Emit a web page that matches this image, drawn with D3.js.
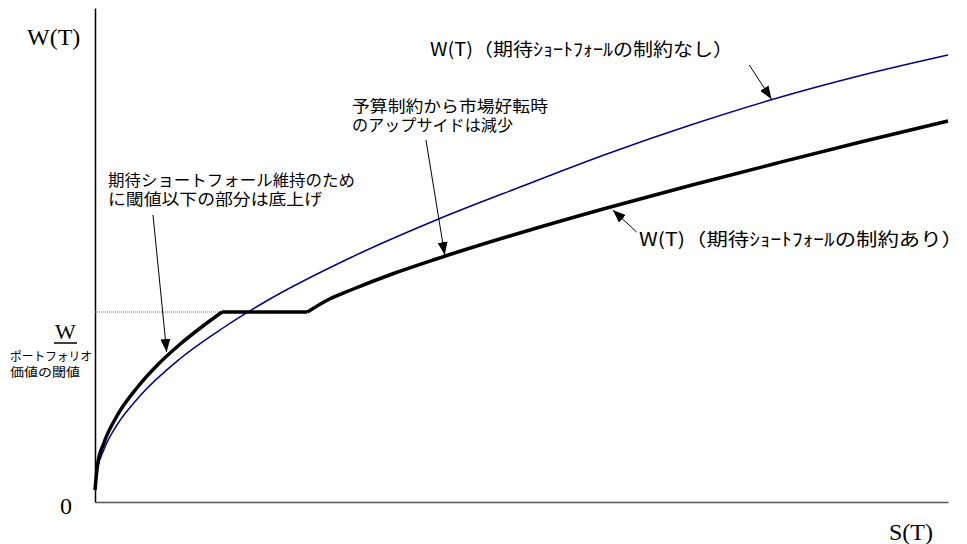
<!DOCTYPE html>
<html lang="ja">
<head>
<meta charset="utf-8">
<title>期待ショートフォール制約</title>
<script src="https://d3js.org/d3.v7.min.js"></script>
<style>
  body { margin: 0; background: #fff; }
  .serif { font-family: "Liberation Serif", "DejaVu Serif", serif; fill: #000; }
  .jp { font-family: "Noto Sans CJK JP", "Noto Sans", sans-serif; fill: #000; }
</style>
</head>
<body>
<script>
// data (S on 0..100, W on 0..100)
const blueS = [0, 0.3, 1, 2.5, 5, 10, 15, 20, 30, 40, 50, 60, 70, 80, 90, 100];
const blueW = [2.4, 6.6, 10.3, 15.2, 20.7, 28.7, 34.8, 40.1, 48.9, 56.4, 63.1, 69.6, 75.5, 80.8, 85.4, 89.4];

const lowS = [0, 0.3, 1, 2.5, 5, 7.5, 10, 12.5, 14.9];
const lowW = [2.4, 7.5, 11.6, 17.0, 23.0, 27.7, 31.6, 35.0, 38.0];
const floorS = [14.9, 24.9];
const highS = [24.9, 27.5, 30, 35, 40, 50, 60, 70, 80, 90, 100];
const highW = [38.0, 40.6, 42.4, 45.7, 48.6, 53.9, 58.8, 63.4, 67.8, 72.1, 76.2];
const threshold = 38.0;

// annotation arrows [fromS, fromW, toS, toW]
const arrows = [
  [6.8, 57.4, 8.4, 30.0],
  [38.8, 72.4, 41.0, 49.4],
  [76.7, 87.4, 79.3, 80.6],
  [63.5, 54.0, 60.7, 58.4]
];

const width = 967, height = 544;

const x = d3.scaleLinear().domain([0, 100]).range([95, 948]);
const y = d3.scaleLinear().domain([0, 100]).range([502, 2]);

const svg = d3.select("body").append("svg")
  .attr("width", width)
  .attr("height", height);

svg.append("defs").append("marker")
  .attr("id", "head")
  .attr("viewBox", "0 0 13 10")
  .attr("refX", 13).attr("refY", 5)
  .attr("markerWidth", 13).attr("markerHeight", 10)
  .attr("markerUnits", "userSpaceOnUse")
  .attr("orient", "auto")
  .append("path").attr("d", "M0,0L13,5L0,10Z").attr("fill", "#000");

// axes
const leftAxis = d3.axisLeft(d3.scaleLinear().domain([0, 98.8]).range([502, 8]))
  .tickValues([]).tickSizeOuter(0);
const bottomAxis = d3.axisBottom(x).tickValues([]).tickSizeOuter(0);

svg.append("g").attr("transform", "translate(0,502)").call(bottomAxis)
  .select(".domain").attr("stroke", "#555").attr("stroke-width", 1.5);
svg.append("g").attr("transform", "translate(95,0)").call(leftAxis)
  .select(".domain").attr("stroke", "#000").attr("stroke-width", 1.5);

// threshold dotted line
svg.append("line")
  .attr("x1", x(0)).attr("x2", x(lowS[lowS.length - 1]))
  .attr("y1", y(threshold)).attr("y2", y(threshold))
  .attr("stroke", "#777").attr("stroke-width", 1)
  .attr("stroke-dasharray", "1,1");

const line = d3.line().x(d => x(d[0])).y(d => y(d[1])).curve(d3.curveMonotoneX);

// unconstrained
svg.append("path")
  .attr("d", line(d3.zip(blueS, blueW)))
  .attr("fill", "none").attr("stroke", "#00008b").attr("stroke-width", 1.5);

// constrained
[d3.zip(lowS, lowW), floorS.map(s => [s, threshold]), d3.zip(highS, highW)].forEach(seg => {
  svg.append("path")
    .attr("d", line(seg))
    .attr("fill", "none").attr("stroke", "#000").attr("stroke-width", 3.5)
    .attr("stroke-linejoin", "round");
});

arrows.forEach(a => {
  svg.append("line")
    .attr("x1", x(a[0])).attr("y1", y(a[1]))
    .attr("x2", x(a[2])).attr("y2", y(a[3]))
    .attr("stroke", "#000").attr("stroke-width", 1)
    .attr("marker-end", "url(#head)");
});

// axis labels
svg.append("text").attr("class", "serif").attr("x", 27).attr("y", 45)
  .attr("font-size", 24).text("W(T)");
svg.append("text").attr("class", "serif").attr("x", 889).attr("y", 540)
  .attr("font-size", 24).text("S(T)");
svg.append("text").attr("class", "serif").attr("x", 60).attr("y", 514)
  .attr("font-size", 24).text("0");
svg.append("text").attr("class", "serif").attr("x", 65.5).attr("y", 339)
  .attr("text-anchor", "middle").attr("font-size", 22).text("W");
svg.append("line").attr("x1", 54).attr("x2", 77).attr("y1", 343).attr("y2", 343)
  .attr("stroke", "#000").attr("stroke-width", 1.5);

// japanese labels [text, x, baseline, size, width]
const labels = [
  ["ポートフォリオ", 10, 361, 12, 82],
  ["価値の閾値", 10, 377, 12, 70],
  ["W(T)（期待ｼｮｰﾄﾌｫｰﾙの制約なし）", 430, 56, 18, 303],
  ["W(T)（期待ｼｮｰﾄﾌｫｰﾙの制約あり）", 639, 246, 18, 324],
  ["予算制約から市場好転時", 352, 112, 16, 196],
  ["のアップサイドは減少", 352, 131, 16, 161],
  ["期待ショートフォール維持のため", 108, 186, 16, 247],
  ["に閾値以下の部分は底上げ", 108, 205, 16, 214]
];
labels.forEach(l => {
  svg.append("text").attr("class", "jp")
    .attr("x", l[1]).attr("y", l[2])
    .attr("font-size", l[3])
    .attr("textLength", l[4]).attr("lengthAdjust", "spacingAndGlyphs")
    .text(l[0]);
});
</script>
</body>
</html>
